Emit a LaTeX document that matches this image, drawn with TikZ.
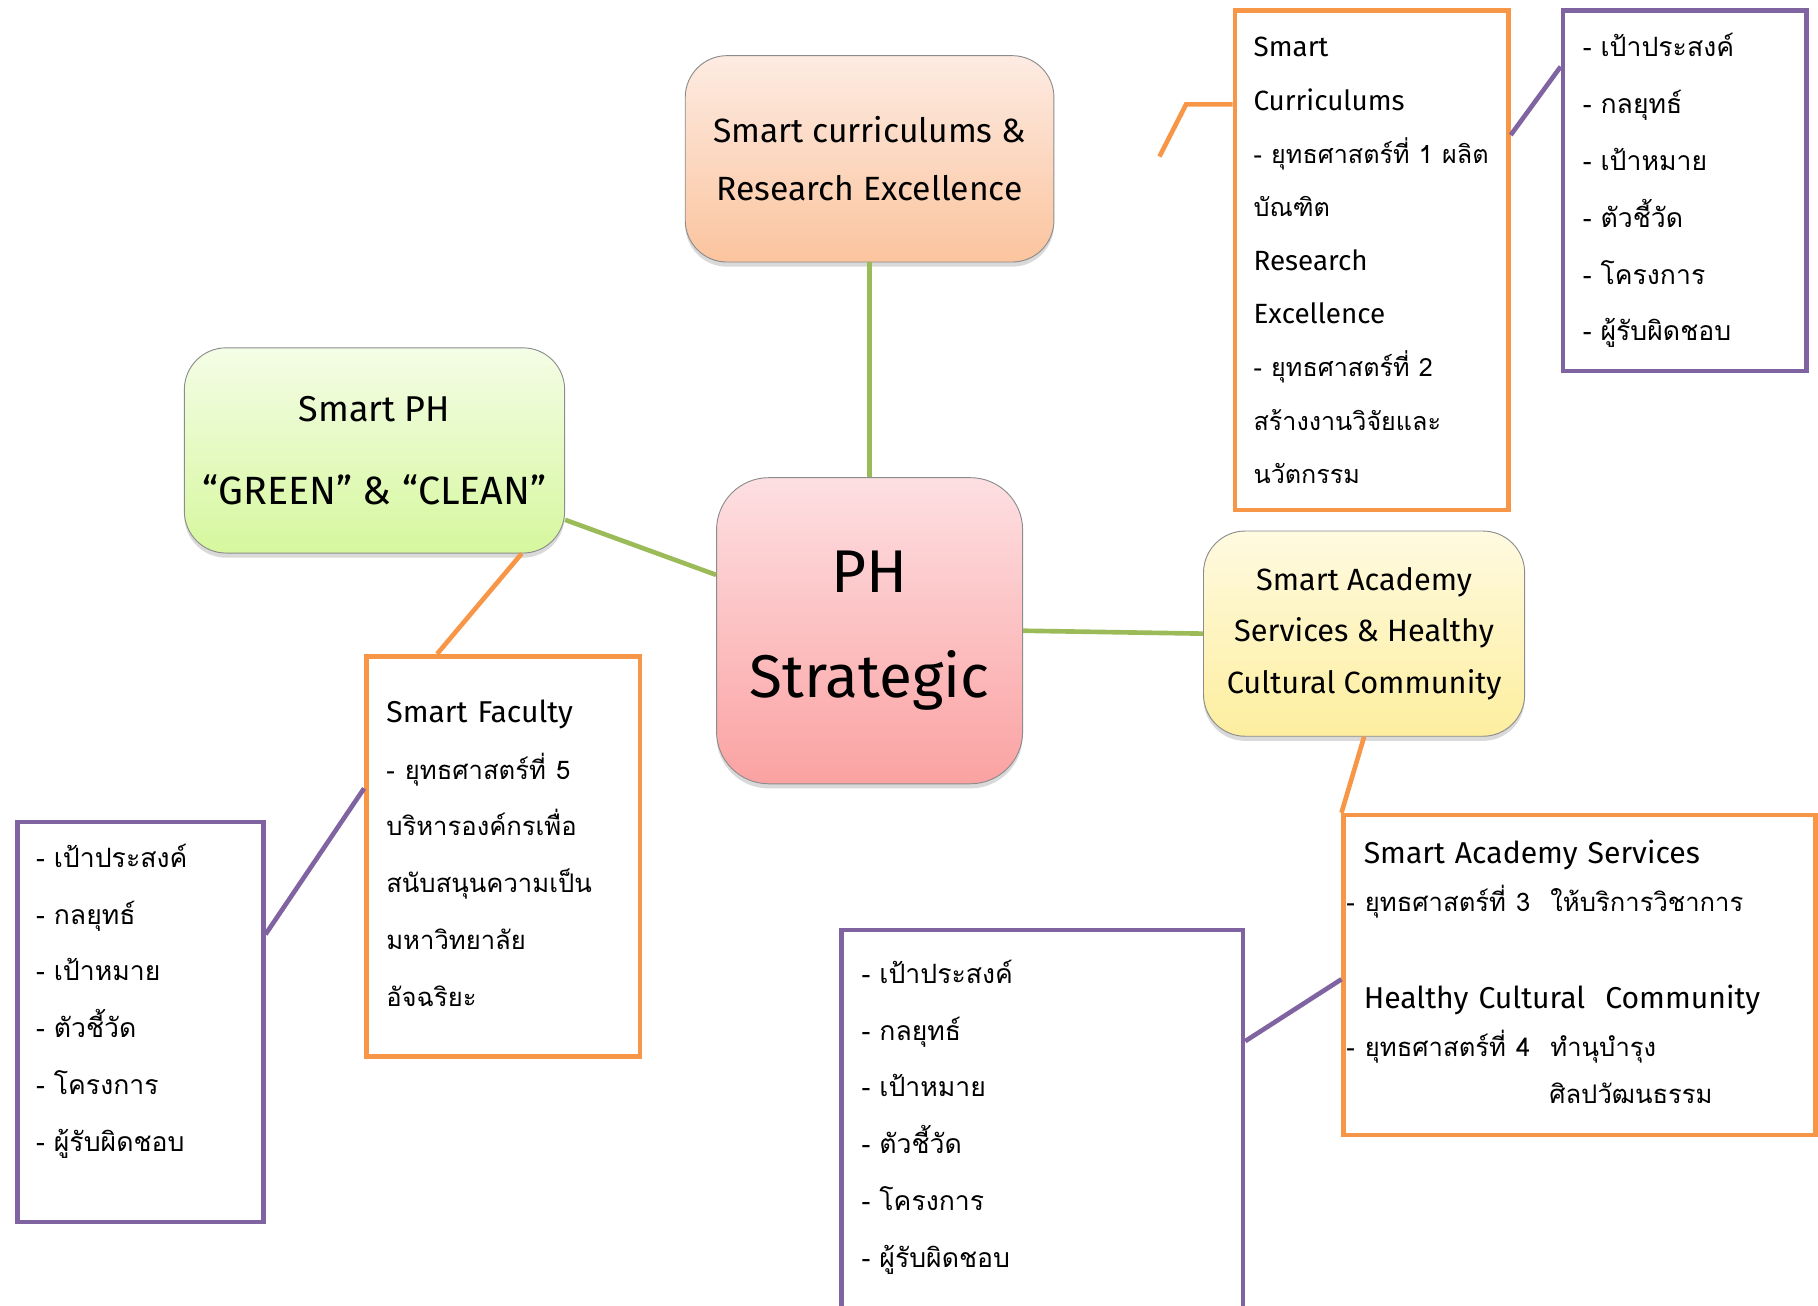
\documentclass[tikz,border=0pt]{standalone}
\usepackage{fontspec}
\setmainfont{Fira Sans}
\newfontfamily\thaifont[Script=Thai,Scale=0.85]{Loma}
\usetikzlibrary{shadows}
\definecolor{linkgreen}{HTML}{9BBB59}
\definecolor{tieorange}{HTML}{F79646}
\definecolor{pinpurple}{HTML}{8064A2}
\definecolor{coreTop}{HTML}{FDDFE2}
\definecolor{coreBot}{HTML}{FBA2A2}
\definecolor{curTop}{HTML}{FDEBE2}
\definecolor{curBot}{HTML}{FBC49E}
\definecolor{greenTop}{HTML}{F4FDE6}
\definecolor{greenBot}{HTML}{D6F79E}
\definecolor{acadTop}{HTML}{FFFAE1}
\definecolor{acadBot}{HTML}{FDEE9E}
\tikzset{
  hub/.style={draw=black!45, line width=0.8pt, rounded corners=36pt, align=center, inner sep=0pt,
    drop shadow={shadow xshift=0pt, shadow yshift=-4pt, opacity=0.3}},
  obox/.style={draw=tieorange, line width=4pt, inner sep=0pt},
  pbox/.style={draw=pinpurple, line width=4pt, inner sep=0pt},
  listtext/.style={anchor=base west, inner sep=0pt, text width=420pt, align=left},
  link/.style={draw=linkgreen, line width=4pt},
  tie/.style={draw=tieorange, line width=4pt},
  pin/.style={draw=pinpurple, line width=4pt}
}
\begin{document}
\begin{tikzpicture}[x=1pt,y=-1pt]
\useasboundingbox (0,0) rectangle (1568,1126);
\clip (0,0) rectangle (1568,1126);

% hubs
\node[hub, minimum width=264pt, minimum height=264pt, rounded corners=45pt, top color=coreTop, bottom color=coreBot,
  font=\fontsize{52}{90}\selectfont] (core) at (750,544) {PH\\Strategic};
\node[hub, minimum width=318pt, minimum height=178pt, top color=curTop, bottom color=curBot,
  font=\fontsize{29}{50}\selectfont] (curres) at (750,137) {Smart curriculums \&\\Research Excellence};
\node[hub, minimum width=328pt, minimum height=177pt, top color=greenTop, bottom color=greenBot,
  font=\fontsize{31}{72}\selectfont] (green) at (323,388.5) {Smart PH\\{\fontsize{34}{72}\selectfont “GREEN” \& “CLEAN”}};
\node[hub, minimum width=277pt, minimum height=177pt, top color=acadTop, bottom color=acadBot,
  font=\fontsize{26.5}{44.5}\selectfont] (acad) at (1176.5,546.5) {Smart Academy\\Services \& Healthy\\Cultural Community};

\draw[link] (core.north) -- (curres.south);
\draw[link] (core.160) -- (green.-20);
\draw[link] (core.east) -- (acad.west);

% strategy boxes
\node[obox, minimum width=236pt, minimum height=431pt] (curbox) at (1183,224.5) {};
\node[listtext, font=\fontsize{24}{46}\selectfont] (curT) at ([shift={(18,42)}]curbox.north west)
  {Smart\\Curriculums\\{\thaifont\fontsize{25.5}{46}\selectfont - ยุทธศาสตร์ที่ 1 ผลิต}\\{\thaifont\fontsize{25.5}{46}\selectfont บัณฑิต}\\Research\\Excellence\\
   {\thaifont\fontsize{25.5}{46}\selectfont - ยุทธศาสตร์ที่ 2}\\{\thaifont\fontsize{25.5}{46}\selectfont สร้างงานวิจัยและ}\\{\thaifont\fontsize{25.5}{46}\selectfont นวัตกรรม}};
\node[obox, minimum width=236pt, minimum height=345pt] (facbox) at (434,738.5) {};
\node[listtext, font=\fontsize{26}{49}\selectfont] (facT) at ([shift={(19,59)}]facbox.north west)
  {Smart Faculty\\{\thaifont - ยุทธศาสตร์ที่ 5}\\{\thaifont บริหารองค์กรเพื่อ}\\{\thaifont สนับสนุนความเป็น}\\
   {\thaifont มหาวิทยาลัย}\\{\thaifont อัจฉริยะ}};
\node[obox, minimum width=407pt, minimum height=276pt] (acbox) at (1362.5,841) {};
\node[listtext, font=\fontsize{26}{41}\selectfont] (acT) at ([shift={(4,44)}]acbox.north west)
  {\hspace*{15pt}Smart Academy Services\\{\thaifont - ยุทธศาสตร์ที่ 3\ \ ให้บริการวิชาการ}\\[43pt]
   \hspace*{15pt}Healthy Cultural\ \ Community\\{\thaifont - ยุทธศาสตร์ที่ 4\ \ ทำนุบำรุง}\\
   {\thaifont\hspace*{175pt}ศิลปวัฒนธรรม}};

\coordinate (curend) at (1000,135);
\draw[tie] (curbox.west |- 0,90) -- ++(-40,0) -- (curend);
\draw[tie] (green.-35) -- ([xshift=-57pt]facbox.north);
\draw[tie] (acad.south) -- (acbox.north west);

% item lists
\node[pbox, minimum width=210pt, minimum height=311pt] (curlist) at (1453,164.5) {};
\node[listtext, font=\thaifont\fontsize{27}{49}\selectfont] (curlistT) at ([shift={(19,42)}]curlist.north west)
  {- เป้าประสงค์\\- กลยุทธ์\\- เป้าหมาย\\- ตัวชี้วัด\\- โครงการ\\- ผู้รับผิดชอบ};
\node[pbox, minimum width=212pt, minimum height=345pt] (faclist) at (121,881.5) {};
\node[listtext, font=\thaifont\fontsize{27}{49}\selectfont] (faclistT) at ([shift={(18,41)}]faclist.north west)
  {- เป้าประสงค์\\- กลยุทธ์\\- เป้าหมาย\\- ตัวชี้วัด\\- โครงการ\\- ผู้รับผิดชอบ};
\node[pbox, minimum width=346pt, minimum height=378pt] (aclist) at (899,991) {};
\node[listtext, font=\thaifont\fontsize{27}{49}\selectfont] (aclistT) at ([shift={(19,48)}]aclist.north west)
  {- เป้าประสงค์\\- กลยุทธ์\\- เป้าหมาย\\- ตัวชี้วัด\\- โครงการ\\- ผู้รับผิดชอบ};

\draw[pin] (curbox.42) -- (curlist.135);
\draw[pin] (facbox.154) -- (faclist.35);
\draw[pin] (acbox.181) -- (aclist.28.5);

\end{tikzpicture}
\end{document}
